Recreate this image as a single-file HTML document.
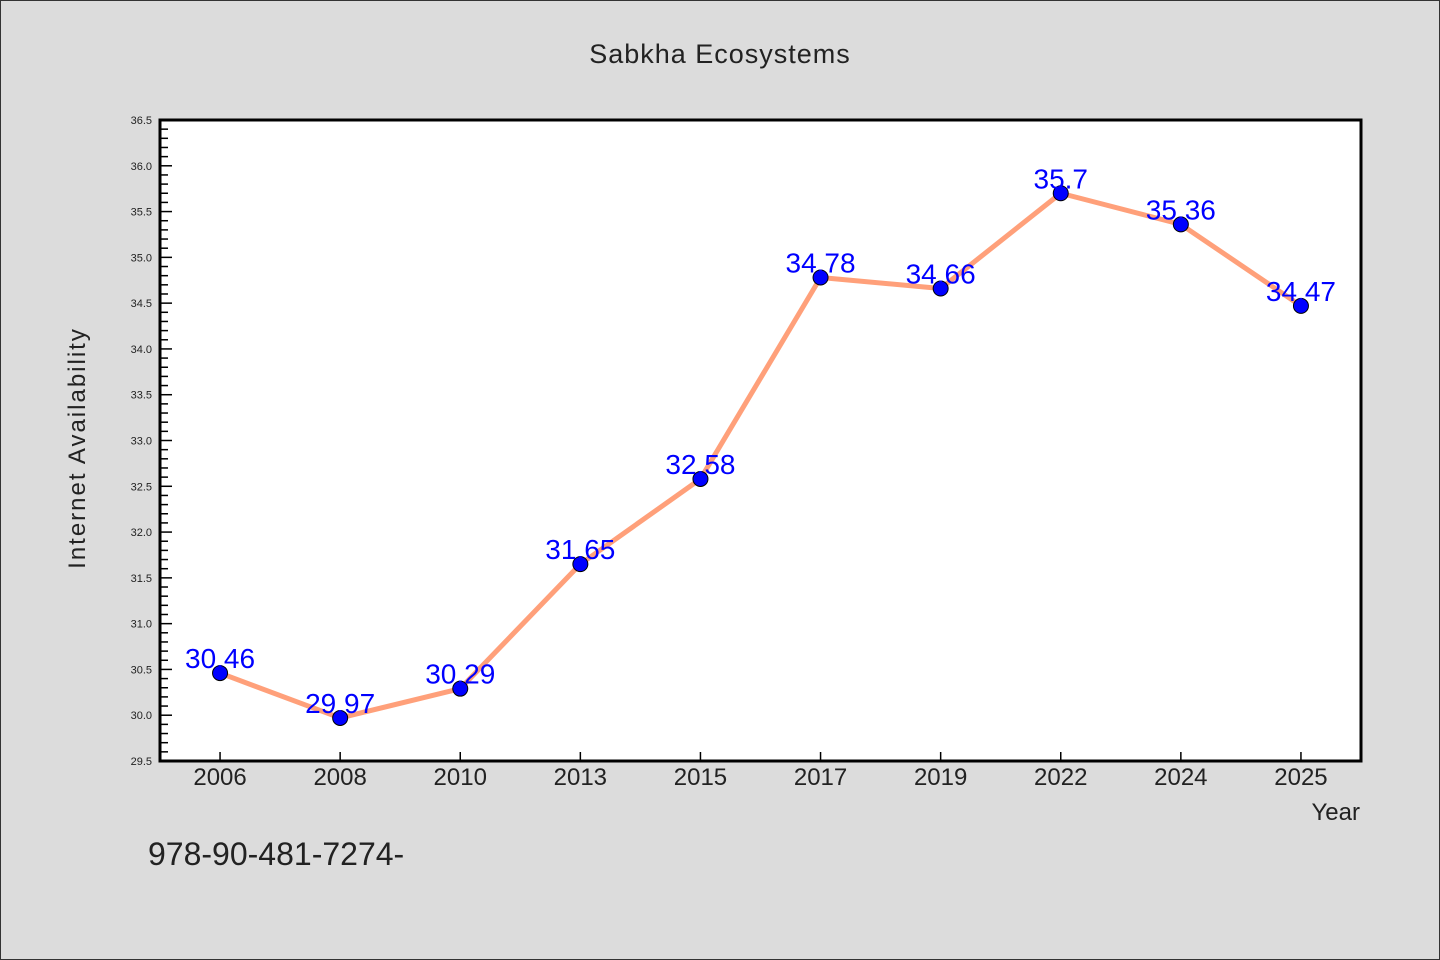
<!DOCTYPE html>
<html><head><meta charset="utf-8">
<style>
body{margin:0;background:#dcdcdc;}
svg{display:block;font-family:"WenQuanYi Zen Hei","Liberation Sans",sans-serif;}
</style></head>
<body>
<svg id="chart" width="1440" height="960" viewBox="0 0 1440 960">
<rect x="0.5" y="0.5" width="1439" height="959" fill="#dcdcdc" stroke="#333" stroke-width="1"/>
<text x="720" y="63" text-anchor="middle" font-size="27" fill="#222" letter-spacing="1">Sabkha Ecosystems</text>
<rect x="160" y="120" width="1201" height="641" fill="#fff" stroke="#000" stroke-width="3"/>
<g id="yaxis"></g>
<g id="xaxis"></g>
<g id="series"></g>
<text transform="translate(85,448) rotate(-90)" text-anchor="middle" font-size="24" fill="#222" letter-spacing="2">Internet Availability</text>
<text x="1360" y="820" text-anchor="end" font-size="24" fill="#222">Year</text>
<text x="148" y="865" font-size="32" fill="#222">978-90-481-7274-</text>
</svg>
<script>
const categories=["2006","2008","2010","2013","2015","2017","2019","2022","2024","2025"];
const values=[30.46,29.97,30.29,31.65,32.58,34.78,34.66,35.7,35.36,34.47];
const valueLabels=["30.46","29.97","30.29","31.65","32.58","34.78","34.66","35.7","35.36","34.47"];
const yTicks=[29.5,30.0,30.5,31.0,31.5,32.0,32.5,33.0,33.5,34.0,34.5,35.0,35.5,36.0,36.5];
const NS="http://www.w3.org/2000/svg";
const L=160,R=1361,T=120,B=761,yMin=29.5,yMax=36.5;
function y(v){return B-(v-yMin)/(yMax-yMin)*(B-T);}
function x(i){return L+(i+0.5)*(R-L)/categories.length;}
function mk(tag,attrs,parent){const e=document.createElementNS(NS,tag);for(const k in attrs)e.setAttribute(k,attrs[k]);parent.appendChild(e);return e;}
const ya=document.getElementById('yaxis');
for(let v=yMin;v<=yMax+1e-9;v+=0.1){
  const major=Math.abs(v*2-Math.round(v*2))<1e-6;
  const t=mk('line',{x1:L,x2:L+(major?12:8),y1:y(v),y2:y(v),stroke:'#000','stroke-width':1.5},ya);
  
  
}
yTicks.forEach(v=>{
  const t=mk('text',{x:152,y:y(v)+4,'text-anchor':'end','font-size':11,fill:'#222'},ya);
  
  
  t.textContent=v.toFixed(1);
});
const xa=document.getElementById('xaxis');
categories.forEach((c,i)=>{
  const tk=mk('line',{x1:x(i),x2:x(i),y1:B,y2:B-9,stroke:'#000','stroke-width':1.5},xa);
  
  
  const t=mk('text',{x:x(i),y:785,'text-anchor':'middle','font-size':24,fill:'#222'},xa);
  
  
  t.textContent=c;
});
const s=document.getElementById('series');
const line=mk('polyline',{points:values.map((v,i)=>x(i)+','+y(v)).join(' '),fill:'none',stroke:'#ffa07a','stroke-width':5,'stroke-linejoin':'round'},s);


values.forEach((v,i)=>{
  const c=mk('circle',{cx:x(i),cy:y(v),r:7.5,fill:'#0000ff',stroke:'#000','stroke-width':1},s);
  
  
  const t=mk('text',{x:x(i),y:y(v)-5,'text-anchor':'middle','font-size':28,fill:'#0000ff'},s);
  
  
  t.textContent=valueLabels[i];
});
</script>
</body></html>
